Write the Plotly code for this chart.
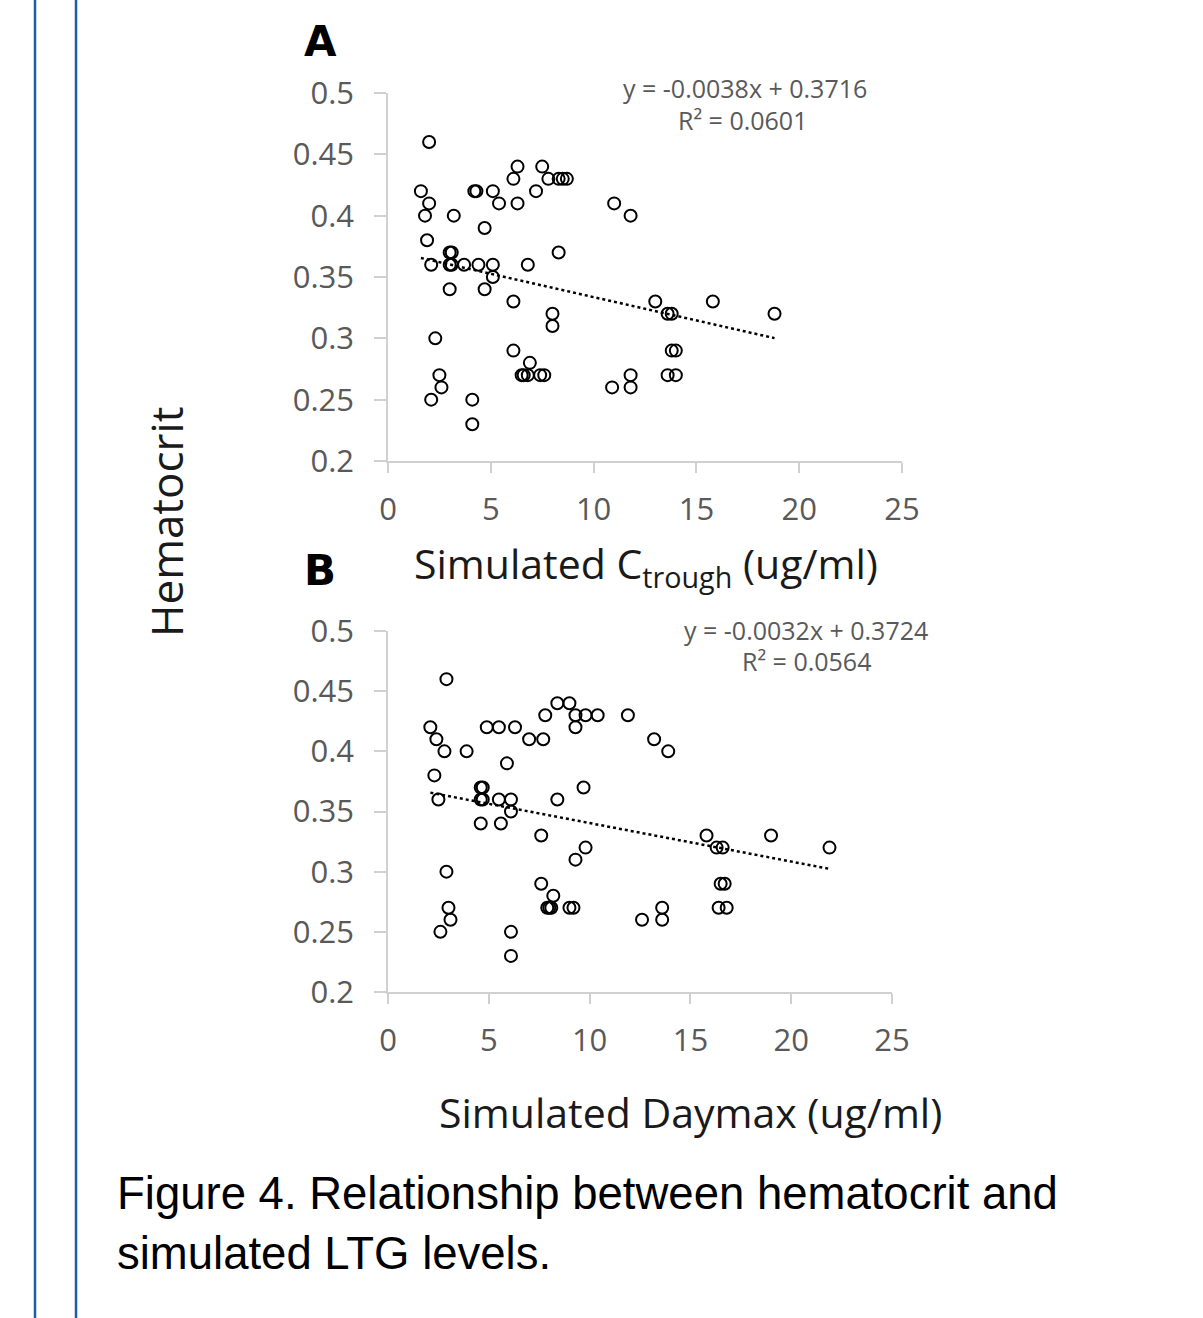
import plotly.graph_objects as go

# ---------------- data ----------------
a_x = [2.0, 1.6, 2.0, 1.8, 3.2, 1.9, 3.0, 3.1, 2.1, 3.0, 3.1, 3.7, 4.4, 5.1, 6.8, 5.1,
       4.7, 4.2, 4.3, 5.1, 5.4, 6.3, 6.1, 6.3, 7.2, 7.5, 7.8, 8.3, 8.5, 8.7, 8.3,
       3.0, 4.7, 6.1, 8.0, 8.0, 2.3, 6.1, 6.9, 6.5, 6.6, 6.8, 7.4, 7.6, 2.5, 2.6,
       2.1, 4.1, 4.1, 11.0, 11.8, 13.0, 15.8, 13.6, 13.8, 18.8, 13.8, 14.0, 13.6,
       14.0, 11.8, 11.8, 10.9]
a_y = [0.46, 0.42, 0.41, 0.40, 0.40, 0.38, 0.37, 0.37, 0.36, 0.36, 0.36, 0.36, 0.36, 0.36, 0.36, 0.35,
       0.39, 0.42, 0.42, 0.42, 0.41, 0.41, 0.43, 0.44, 0.42, 0.44, 0.43, 0.43, 0.43, 0.43, 0.37,
       0.34, 0.34, 0.33, 0.32, 0.31, 0.30, 0.29, 0.28, 0.27, 0.27, 0.27, 0.27, 0.27, 0.27, 0.26,
       0.25, 0.25, 0.23, 0.41, 0.40, 0.33, 0.33, 0.32, 0.32, 0.32, 0.29, 0.29, 0.27,
       0.27, 0.27, 0.26, 0.26]

b_x = [2.9, 2.1, 2.4, 2.8, 3.9, 2.3, 2.5, 4.6, 4.7, 4.6, 4.7, 5.5, 6.1, 6.1, 8.4, 9.7,
       4.6, 5.6, 5.9, 4.9, 5.5, 6.3, 7.0, 7.7, 7.8, 8.4, 9.0, 9.3, 9.8, 10.4, 9.3,
       11.9, 13.2, 13.9, 7.6, 9.8, 9.3, 2.9, 7.6, 8.2, 7.9, 8.0, 8.1, 9.0, 9.2, 3.0,
       3.1, 2.6, 6.1, 6.1, 15.8, 19.0, 16.3, 16.6, 21.9, 16.5, 16.7, 12.6, 13.6, 13.6,
       16.4, 16.8]
b_y = [0.46, 0.42, 0.41, 0.40, 0.40, 0.38, 0.36, 0.37, 0.37, 0.36, 0.36, 0.36, 0.36, 0.35, 0.36, 0.37,
       0.34, 0.34, 0.39, 0.42, 0.42, 0.42, 0.41, 0.41, 0.43, 0.44, 0.44, 0.43, 0.43, 0.43, 0.42,
       0.43, 0.41, 0.40, 0.33, 0.32, 0.31, 0.30, 0.29, 0.28, 0.27, 0.27, 0.27, 0.27, 0.27, 0.27,
       0.26, 0.25, 0.25, 0.23, 0.33, 0.33, 0.32, 0.32, 0.32, 0.29, 0.29, 0.26, 0.27, 0.26,
       0.27, 0.27]

a_slope, a_intercept = -0.0038, 0.3716
b_slope, b_intercept = -0.0032, 0.3724
a_equation = ["y = -0.0038x + 0.3716", "R² = 0.0601"]
b_equation = ["y = -0.0032x + 0.3724", "R² = 0.0564"]

x_ticks = [0, 5, 10, 15, 20, 25]
x_labels = ["0", "5", "10", "15", "20", "25"]
y_ticks = [0.2, 0.25, 0.3, 0.35, 0.4, 0.45, 0.5]
y_labels = ["0.2", "0.25", "0.3", "0.35", "0.4", "0.45", "0.5"]

panel_labels = ["A", "B"]
x_titles = ["Simulated C<sub>trough</sub> (ug/ml)", "Simulated Daymax (ug/ml)"]
y_title = "Hematocrit"
caption = ["Figure 4. Relationship between hematocrit and", "simulated LTG levels."]

# ---------------- figure ----------------
W, H = 1203, 1318
def px(x):
    return x / W
def py(y):
    return 1 - y / H

fig = go.Figure()

marker = dict(symbol="circle-open", size=12, color="black", line=dict(width=2, color="black"))

def add_panel(xs, ys, slope, intercept, xa, ya):
    fig.add_trace(go.Scatter(x=xs, y=ys, mode="markers", marker=marker,
                             xaxis=xa, yaxis=ya, showlegend=False, hoverinfo="x+y"))
    x0, x1 = min(xs), max(xs)
    fig.add_trace(go.Scatter(x=[x0, x1], y=[slope * x0 + intercept, slope * x1 + intercept],
                             mode="lines", line=dict(color="black", width=2.5, dash="dot"),
                             xaxis=xa, yaxis=ya, showlegend=False, hoverinfo="skip"))

add_panel(a_x, a_y, a_slope, a_intercept, "x", "y")
add_panel(b_x, b_y, b_slope, b_intercept, "x2", "y2")

tick_font = dict(family="Open Sans", size=31, color="#595959")
axis_common = dict(showline=True, linecolor="#d0d0d0", linewidth=1.5, showgrid=False,
                   zeroline=False, ticks="outside", tickcolor="#d0d0d0", tickwidth=1.5,
                   tickfont=tick_font, automargin=False)

fig.update_layout(
    template="none",
    width=W, height=H,
    margin=dict(l=0, r=0, t=0, b=0, pad=0, autoexpand=False),
    paper_bgcolor="white", plot_bgcolor="white",
    showlegend=False,
    xaxis=dict(domain=[px(388), px(902)], range=[0, 25], anchor="y",
               tickvals=x_ticks, ticktext=x_labels, ticklen=10, ticklabelstandoff=10, **axis_common),
    yaxis=dict(domain=[py(461), py(93)], range=[0.2, 0.5], anchor="x",
               tickvals=y_ticks, ticktext=y_labels, ticklen=12, ticklabelstandoff=14, **axis_common),
    xaxis2=dict(domain=[px(388), px(892)], range=[0, 25], anchor="y2",
                tickvals=x_ticks, ticktext=x_labels, ticklen=10, ticklabelstandoff=10, **axis_common),
    yaxis2=dict(domain=[py(992), py(631)], range=[0.2, 0.5], anchor="x2",
                tickvals=y_ticks, ticktext=y_labels, ticklen=12, ticklabelstandoff=14, **axis_common),
)

annots = []
def text(x, y, s, size, color="black", family="Open Sans", xanchor="center", angle=0):
    annots.append(dict(x=px(x), y=py(y), xref="paper", yref="paper", text=s, showarrow=False,
                       xanchor=xanchor, yanchor="middle", textangle=angle,
                       font=dict(family=family, size=size, color=color)))

text(320, 42, "<b>%s</b>" % panel_labels[0], 42, family="DejaVu Sans")
text(320, 570, "<b>%s</b>" % panel_labels[1], 42, family="DejaVu Sans")
text(745, 88, a_equation[0], 25, color="#595959")
text(742, 120, a_equation[1], 25, color="#595959")
text(806, 630, b_equation[0], 25, color="#595959")
text(806, 661, b_equation[1], 25, color="#595959")
text(646, 565, x_titles[0], 41, color="#1a1a1a")
text(690, 1112, x_titles[1], 41, color="#1a1a1a")
text(166, 522, y_title, 44, color="#1a1a1a", angle=-90)
text(115, 1193, caption[0], 45.5, family="Liberation Sans", xanchor="left")
text(115, 1253, caption[1], 45.5, family="Liberation Sans", xanchor="left")
fig.update_layout(annotations=annots)

for xl in [35, 76]:
    fig.add_shape(type="line", xref="paper", yref="paper", x0=px(xl), x1=px(xl), y0=0, y1=1,
                  line=dict(color="#1f5ca8", width=2.5))

post = ("document.documentElement.style.margin='0';document.body.style.margin='0';"
        "document.body.style.padding='0';document.documentElement.style.overflow='hidden';"
        "document.body.style.overflow='hidden';")
fig.write_html("out.html", post_script=post,
               config={"responsive": False, "displayModeBar": False})
